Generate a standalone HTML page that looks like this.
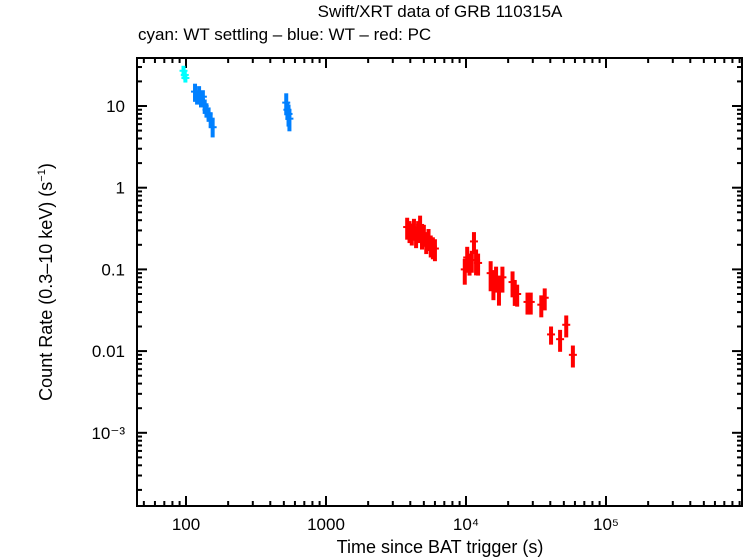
<!DOCTYPE html>
<html><head><meta charset="utf-8">
<style>
body{margin:0;background:#fff;}
svg{display:block;font-family:"Liberation Sans",sans-serif;}
</style></head>
<body>
<svg id="chart" width="746" height="558">
<text x="440" y="17" font-size="17" text-anchor="middle">Swift/XRT data of GRB 110315A</text>
<text x="138" y="40" font-size="17">cyan: WT settling – blue: WT – red: PC</text>
<g id="axes"></g>
<g id="marks"></g>
<text x="440" y="553" font-size="18" text-anchor="middle">Time since BAT trigger (s)</text>
<text transform="translate(52,282) rotate(-90)" font-size="18" text-anchor="middle">Count Rate (0.3–10 keV) (s<tspan dy="-7" font-size="11">−1</tspan><tspan dy="7">)</tspan></text>
</svg>
<script>
const cyanT=[96,98,99];
const cyanR=[27,24,22];
const cyanE=[0.15,0.12,0.12];
const blueT=[116,120,124,128,132,136,140,145,150,155,520,530,540,548];
const blueR=[15,13,14,12,13,10,9,8,7,5.5,11,9,8,7];
const blueE=[0.25,0.2,0.25,0.2,0.2,0.2,0.2,0.2,0.2,0.25,0.3,0.25,0.3,0.3];
const redT=[3800,3950,4100,4250,4400,4550,4700,4850,5000,5200,5400,5600,5800,6000,
 9800,10200,10600,11000,11400,11800,12200,
 15000,15700,16400,17200,18200,
 21500,22300,23200,27500,29000,34500,36500,
 40500,47000,52000,58000];
const redR=[0.33,0.3,0.28,0.32,0.26,0.3,0.35,0.25,0.27,0.22,0.24,0.2,0.19,0.18,
 0.1,0.14,0.12,0.13,0.22,0.13,0.12,
 0.09,0.07,0.08,0.06,0.08,
 0.07,0.055,0.05,0.04,0.04,0.037,0.045,
 0.016,0.014,0.021,0.009];
const redE=[0.3,0.3,0.3,0.3,0.3,0.3,0.3,0.3,0.3,0.3,0.3,0.3,0.3,0.3,
 0.35,0.35,0.3,0.3,0.3,0.35,0.3,
 0.4,0.4,0.35,0.4,0.35,
 0.35,0.35,0.3,0.3,0.3,0.3,0.3,
 0.25,0.3,0.3,0.3];
const xTicks=[100,1000,10000,100000];
const xTickLabels=["100","1000","10⁴","10⁵"];
const yTicks=[10,1,0.1,0.01,0.001];
const yTickLabels=["10","1","0.1","0.01","10⁻³"];

const L=137,R=742,T=58,B=506;
const xs=t=>186+140*(Math.log10(t)-2);
const ys=r=>106-81.7*(Math.log10(r)-1);
const NS="http://www.w3.org/2000/svg";
function mk(tag,attrs,parent){const e=document.createElementNS(NS,tag);for(const k in attrs)e.setAttribute(k,attrs[k]);parent.appendChild(e);return e;}
const ax=document.getElementById('axes');
const frame=mk('rect',{x:L,y:T,width:R-L,height:B-T,fill:'none',stroke:'#000','stroke-width':2},ax);


// x minor/major ticks
for(let d=1;d<=5;d++){for(let m=1;m<=9;m++){const v=m*Math.pow(10,d);const x=xs(v);if(x<L||x>R)continue;const len=m===1?10:5;
 const t1=mk('line',{x1:x,x2:x,y1:B,y2:B-len,stroke:'#000','stroke-width':2},ax);
 
 
 const t2=mk('line',{x1:x,x2:x,y1:T,y2:T+len,stroke:'#000','stroke-width':2},ax);
 
 }}
for(let d=-4;d<=1;d++){for(let m=1;m<=9;m++){const v=m*Math.pow(10,d);const y=ys(v);if(y<T||y>B)continue;const len=m===1?10:5;
 const t1=mk('line',{x1:L,x2:L+len,y1:y,y2:y,stroke:'#000','stroke-width':2},ax);
 
 
 const t2=mk('line',{x1:R,x2:R-len,y1:y,y2:y,stroke:'#000','stroke-width':2},ax);
 
 }}
xTicks.forEach((v,i)=>{const t=mk('text',{x:xs(v),y:530,'font-size':17,'text-anchor':'middle'},ax);t.textContent=xTickLabels[i];
 
 });
yTicks.forEach((v,i)=>{const t=mk('text',{x:125,y:ys(v)+6,'font-size':17,'text-anchor':'end'},ax);t.textContent=yTickLabels[i];
 
 });
const mg=document.getElementById('marks');
function series(T_,R_,E_,color,name){T_.forEach((t,i)=>{const g=mk('g',{},mg);
 
 
 const x=xs(t),r=R_[i],e=E_[i];
 mk('line',{x1:x,x2:x,y1:ys(r*(1+e)),y2:ys(r*(1-e)),stroke:color,'stroke-width':4},g);
 mk('line',{x1:x-4,x2:x+4,y1:ys(r),y2:ys(r),stroke:color,'stroke-width':2},g);});}
series(cyanT,cyanR,cyanE,'#00ffff','wt-settling');
series(blueT,blueR,blueE,'#0080ff','wt');
series(redT,redR,redE,'#ff0000','pc');
</script>
</body></html>
